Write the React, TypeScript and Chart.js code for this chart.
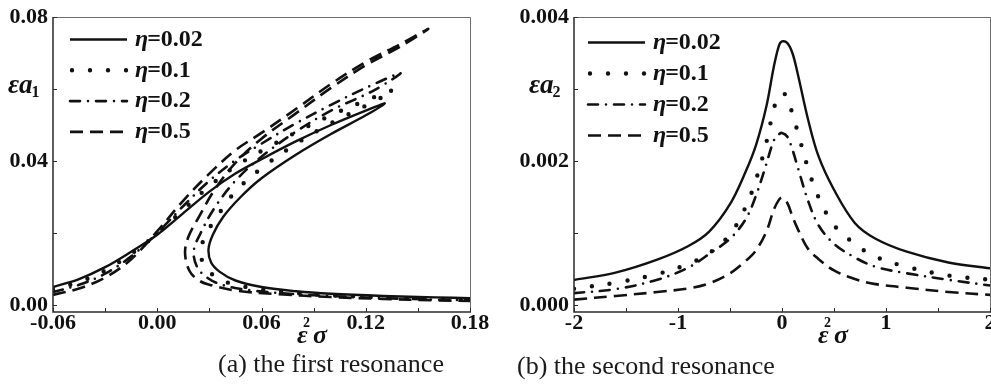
import React, { useEffect, useRef } from 'react';
import { Chart, registerables } from 'chart.js';

Chart.register(...registerables);

const FONT = '"Liberation Serif", "Times New Roman", serif';
const INK = '#111111';

// ---------- shared ----------
const etaValues = ['0.02', '0.1', '0.2', '0.5'];

// ---------- (a) the first resonance ----------
const aXTicks = [-0.06, -0.03, 0, 0.03, 0.06, 0.09, 0.12, 0.15, 0.18];
const aXLabelled = [-0.06, 0, 0.06, 0.12, 0.18];
const aYTicks = [0, 0.02, 0.04, 0.06, 0.08];
const aYLabelled = [0, 0.04, 0.08];

const aEta002X = [-0.06, -0.045, -0.03, -0.015, 0, 0.015, 0.03, 0.045, 0.06, 0.08, 0.1, 0.12, 0.131, 0.12, 0.1, 0.08, 0.06, 0.048, 0.038, 0.032, 0.0295, 0.031, 0.036, 0.045, 0.06, 0.08, 0.1, 0.13, 0.16, 0.18];
const aEta002Y = [0.005, 0.0072, 0.0105, 0.0148, 0.0195, 0.0255, 0.0315, 0.0365, 0.0405, 0.0455, 0.05, 0.054, 0.056, 0.0527, 0.0475, 0.0418, 0.0352, 0.03, 0.0245, 0.0195, 0.0155, 0.0118, 0.0092, 0.0068, 0.005, 0.0038, 0.0031, 0.0025, 0.0021, 0.0019];

const aEta01X = [-0.06, -0.045, -0.03, -0.015, 0, 0.015, 0.03, 0.045, 0.06, 0.08, 0.1, 0.12, 0.136, 0.125, 0.1, 0.08, 0.06, 0.045, 0.035, 0.028, 0.025, 0.027, 0.033, 0.042, 0.06, 0.08, 0.1, 0.13, 0.16, 0.18];
const aEta01Y = [0.0043, 0.0064, 0.0096, 0.0142, 0.0198, 0.0265, 0.033, 0.0385, 0.0428, 0.048, 0.0527, 0.0568, 0.0597, 0.0566, 0.0505, 0.0448, 0.038, 0.0315, 0.025, 0.0195, 0.015, 0.011, 0.008, 0.006, 0.0043, 0.0033, 0.0027, 0.0021, 0.0017, 0.0015];

const aEta02X = [-0.06, -0.045, -0.03, -0.015, 0, 0.015, 0.03, 0.045, 0.06, 0.08, 0.1, 0.12, 0.14, 0.125, 0.1, 0.08, 0.06, 0.045, 0.033, 0.025, 0.021, 0.023, 0.029, 0.038, 0.055, 0.08, 0.1, 0.13, 0.16, 0.18];
const aEta02Y = [0.0036, 0.0056, 0.0087, 0.0135, 0.02, 0.0275, 0.0345, 0.0402, 0.0448, 0.0505, 0.0556, 0.0603, 0.0644, 0.0597, 0.054, 0.0482, 0.0412, 0.0345, 0.027, 0.02, 0.015, 0.0105, 0.0075, 0.0055, 0.004, 0.003, 0.0025, 0.0019, 0.0015, 0.0013];

const aEta05X = [-0.06, -0.045, -0.03, -0.015, 0, 0.015, 0.03, 0.045, 0.06, 0.08, 0.1, 0.12, 0.14, 0.156, 0.14, 0.12, 0.1, 0.08, 0.06, 0.045, 0.033, 0.024, 0.018, 0.016, 0.0185, 0.024, 0.031, 0.045, 0.07, 0.1, 0.13, 0.16, 0.18];
const aEta05Y = [0.0028, 0.0046, 0.0076, 0.0127, 0.0205, 0.029, 0.0365, 0.043, 0.0478, 0.0545, 0.0614, 0.0675, 0.0725, 0.0767, 0.0718, 0.0666, 0.0603, 0.0533, 0.0462, 0.0395, 0.032, 0.0245, 0.019, 0.0145, 0.0095, 0.0068, 0.0055, 0.004, 0.003, 0.0022, 0.0017, 0.0013, 0.0011];

// ---------- (b) the second resonance ----------
const bXTicks = [-2, -1.5, -1, -0.5, 0, 0.5, 1, 1.5, 2];
const bXLabelled = [-2, -1, 0, 1, 2];
const bYTicks = [0, 0.001, 0.002, 0.003, 0.004];
const bYLabelled = [0, 0.002, 0.004];

const bSigma = [-2, -1.6, -1.2, -0.9, -0.7, -0.5, -0.35, -0.25, -0.15, -0.08, -0.03, 0, 0.05, 0.1, 0.15, 0.25, 0.35, 0.5, 0.7, 0.9, 1.2, 1.6, 2];
const bEta002 = [0.000347, 0.00045, 0.00063, 0.00082, 0.00102, 0.0014, 0.00185, 0.00222, 0.00276, 0.0033, 0.0036, 0.00366, 0.00364, 0.0035, 0.00322, 0.00258, 0.00207, 0.0016, 0.00114, 0.00092, 0.00074, 0.00059, 0.00051];
const bEta01 = [0.000225, 0.00031, 0.00043, 0.00057, 0.00072, 0.00098, 0.00136, 0.00174, 0.00226, 0.00272, 0.00291, 0.00294, 0.0029, 0.00265, 0.00241, 0.0019, 0.0015, 0.00111, 0.00085, 0.00067, 0.00053, 0.00041, 0.00035];
const bEta02 = [0.000165, 0.00022, 0.00035, 0.00052, 0.00071, 0.00092, 0.00119, 0.00152, 0.00196, 0.00228, 0.00237, 0.00239, 0.00234, 0.00216, 0.00192, 0.00145, 0.00111, 0.00085, 0.00066, 0.00053, 0.00044, 0.00035, 0.00027];
const bEta05 = [0.000075, 0.000125, 0.00018, 0.00023, 0.0003, 0.00044, 0.00061, 0.00076, 0.00102, 0.00132, 0.00146, 0.00149, 0.00142, 0.00123, 0.00106, 0.00078, 0.00064, 0.00048, 0.00036, 0.00029, 0.00024, 0.00018, 0.00014];

// ---------- line styles (solid, dotted, dash-dot, dashed) ----------
const lineStyles = [
  { borderDash: [], borderWidth: 2.4, borderCapStyle: 'butt' },
  { borderDash: [0, 18], borderWidth: 4.4, borderCapStyle: 'round' },
  { borderDash: [10, 8, 0, 8], borderWidth: 2.6, borderCapStyle: 'round' },
  { borderDash: [13, 7], borderWidth: 2.6, borderCapStyle: 'butt' },
];

const zip = (xs: number[], ys: number[]) => xs.map((x, i) => ({ x, y: ys[i] }));
const has = (arr: number[], v: number) => arr.some((a) => Math.abs(a - v) < 1e-9);

type Panel = {
  id: string;
  series: { x: number; y: number }[][];
  xMin: number; xMax: number; yMin: number; yMax: number;
  xTicks: number[]; xLabelled: number[]; yTicks: number[]; yLabelled: number[];
  fmtX: (v: number) => string; fmtY: (v: number) => string;
  yAxisWidth: number; padRight: number; xAxisHeight: number; top: number;
  legend: { x0: number; x1: number; tx: number; y0: number; dy: number };
  ySub: string;
};

const panelA: Panel = {
  id: 'a',
  series: [zip(aEta002X, aEta002Y), zip(aEta01X, aEta01Y), zip(aEta02X, aEta02Y), zip(aEta05X, aEta05Y)],
  xMin: -0.06, xMax: 0.18, yMin: -0.00195, yMax: 0.08,
  xTicks: aXTicks, xLabelled: aXLabelled, yTicks: aYTicks, yLabelled: aYLabelled,
  fmtX: (v) => v.toFixed(2), fmtY: (v) => v.toFixed(2),
  yAxisWidth: 53, padRight: 25, xAxisHeight: 38, top: 17,
  legend: { x0: 17, x1: 74, tx: 82, y0: 22.5, dy: 30.8 },
  ySub: '1',
};

const panelB: Panel = {
  id: 'b',
  series: [zip(bSigma, bEta002), zip(bSigma, bEta01), zip(bSigma, bEta02), zip(bSigma, bEta05)],
  xMin: -2, xMax: 2, yMin: -0.0000975, yMax: 0.004,
  xTicks: bXTicks, xLabelled: bXLabelled, yTicks: bYTicks, yLabelled: bYLabelled,
  fmtX: (v) => String(v), fmtY: (v) => v.toFixed(3),
  yAxisWidth: 74, padRight: 20, xAxisHeight: 38, top: 17,
  legend: { x0: 14, x1: 71, tx: 79, y0: 25.5, dy: 31 },
  ySub: '2',
};

function makeDecor(p: Panel) {
  return {
    id: 'decor_' + p.id,
    afterDatasetsDraw(chart: any) {
      const { ctx, chartArea: ca, scales } = chart;
      const xs = scales.x;
      const ys = scales.y;
      ctx.save();
      // frame: top & right lighter, left & bottom axes darker
      ctx.setLineDash([]);
      ctx.lineWidth = 1;
      ctx.strokeStyle = '#6e6e6e';
      ctx.beginPath();
      ctx.moveTo(ca.left, ca.top + 0.5);
      ctx.lineTo(ca.right + 0.5, ca.top + 0.5);
      ctx.lineTo(ca.right + 0.5, ca.bottom);
      ctx.stroke();
      ctx.strokeStyle = '#2b2b2b';
      ctx.lineWidth = 1.5;
      ctx.beginPath();
      ctx.moveTo(ca.left, ca.top);
      ctx.lineTo(ca.left, ca.bottom);
      ctx.lineTo(ca.right + 1, ca.bottom);
      ctx.stroke();
      // inward ticks
      ctx.lineWidth = 1;
      ctx.beginPath();
      p.xTicks.forEach((v) => {
        const px = Math.round(xs.getPixelForValue(v)) + 0.5;
        ctx.moveTo(px, ca.bottom);
        ctx.lineTo(px, ca.bottom - 4);
      });
      p.yTicks.forEach((v) => {
        const py = Math.round(ys.getPixelForValue(v)) + 0.5;
        ctx.moveTo(ca.left, py);
        ctx.lineTo(ca.left + 4, py);
      });
      ctx.stroke();

      // legend inside the plot
      const L = p.legend;
      chart.data.datasets.forEach((ds: any, i: number) => {
        const y = ca.top + L.y0 + i * L.dy;
        ctx.save();
        ctx.strokeStyle = INK;
        ctx.lineWidth = ds.borderWidth;
        ctx.lineCap = ds.borderCapStyle;
        ctx.setLineDash(ds.borderDash || []);
        ctx.lineDashOffset = ds.borderDash && ds.borderDash[0] === 0 ? -2 : 0;
        ctx.beginPath();
        ctx.moveTo(ca.left + L.x0, y);
        ctx.lineTo(ca.left + L.x1, y);
        ctx.stroke();
        ctx.restore();
        ctx.fillStyle = INK;
        ctx.textBaseline = 'middle';
        ctx.textAlign = 'left';
        ctx.font = `italic bold 24px ${FONT}`;
        const tx = ca.left + L.tx;
        ctx.fillText('η', tx, y);
        const w = ctx.measureText('η').width;
        ctx.font = `bold 24px ${FONT}`;
        ctx.fillText('=' + etaValues[i], tx + w - 1, y);
      });

      // y axis title  εa_n
      ctx.textBaseline = 'alphabetic';
      ctx.textAlign = 'left';
      ctx.fillStyle = INK;
      ctx.font = `italic bold 27px ${FONT}`;
      const yx = ca.left - 45;
      ctx.fillText('εa', yx, ca.top + 76);
      const ew = ctx.measureText('εa').width;
      ctx.font = `bold 16px ${FONT}`;
      ctx.fillText(p.ySub, yx + ew - 1, ca.top + 80);

      // x axis title  ε²σ
      const xx = ca.left + 244;
      const xb = ca.bottom + 31;
      ctx.font = `italic bold 26px ${FONT}`;
      ctx.fillText('ε', xx, xb);
      ctx.fillText('σ', xx + 16, xb);
      ctx.font = `bold 14px ${FONT}`;
      ctx.fillText('2', xx + 6, xb - 16);
      ctx.restore();
    },
  };
}

function makeChart(canvas: HTMLCanvasElement, p: Panel) {
  const tickFont = { family: FONT, size: 22, weight: 'bold' as const, lineHeight: 1.05 };
  return new Chart(canvas, {
    type: 'line',
    data: {
      datasets: p.series.map((data, i) => ({
        label: 'η=' + etaValues[i],
        data,
        borderColor: INK,
        backgroundColor: INK,
        pointRadius: 0,
        pointHoverRadius: 0,
        fill: false,
        tension: 0.35,
        borderJoinStyle: 'round',
        ...(lineStyles[i] as any),
      })),
    },
    options: {
      responsive: false,
      animation: false,
      events: [],
      layout: { padding: { left: 0, top: p.top, right: p.padRight, bottom: 0 } },
      plugins: { legend: { display: false }, tooltip: { enabled: false } },
      scales: {
        x: {
          type: 'linear',
          min: p.xMin,
          max: p.xMax,
          afterBuildTicks: (s: any) => { s.ticks = p.xTicks.map((v) => ({ value: v })); },
          afterFit: (s: any) => { s.height = p.xAxisHeight; },
          grid: { display: false, drawTicks: false },
          border: { display: false },
          ticks: {
            autoSkip: false,
            maxRotation: 0,
            padding: 0,
            color: INK,
            font: tickFont,
            callback: (v: any) => (has(p.xLabelled, Number(v)) ? p.fmtX(Number(v)) : ''),
          },
        },
        y: {
          type: 'linear',
          min: p.yMin,
          max: p.yMax,
          afterBuildTicks: (s: any) => { s.ticks = p.yTicks.map((v) => ({ value: v })); },
          afterFit: (s: any) => { s.width = p.yAxisWidth; },
          grid: { display: false, drawTicks: false },
          border: { display: false },
          ticks: {
            autoSkip: false,
            padding: 5,
            color: INK,
            font: tickFont,
            callback: (v: any) => (has(p.yLabelled, Number(v)) ? p.fmtY(Number(v)) : ''),
          },
        },
      },
    } as any,
    plugins: [makeDecor(p)],
  });
}

const captionStyle = (left: number, top: number): React.CSSProperties => ({
  position: 'absolute',
  left,
  top,
  fontFamily: FONT,
  fontSize: 26,
  lineHeight: '26px',
  color: '#1a1a1a',
  whiteSpace: 'nowrap',
});

export default function App() {
  const leftRef = useRef<HTMLCanvasElement>(null);
  const rightRef = useRef<HTMLCanvasElement>(null);
  useEffect(() => {
    const c1 = makeChart(leftRef.current as HTMLCanvasElement, panelA);
    const c2 = makeChart(rightRef.current as HTMLCanvasElement, panelB);
    return () => {
      c1.destroy();
      c2.destroy();
    };
  }, []);
  return (
    <div style={{ position: 'fixed', left: 0, top: 0, width: 991, height: 385, overflow: 'hidden', background: '#fff' }}>
      <canvas ref={leftRef} width={495} height={350} style={{ position: 'absolute', left: 0, top: 0, width: 495, height: 350 }} />
      <canvas ref={rightRef} width={510} height={350} style={{ position: 'absolute', left: 500, top: 0, width: 510, height: 350 }} />
      <div style={captionStyle(218, 351)}>(a) the first resonance</div>
      <div style={captionStyle(517, 353)}>(b) the second resonance</div>
    </div>
  );
}
